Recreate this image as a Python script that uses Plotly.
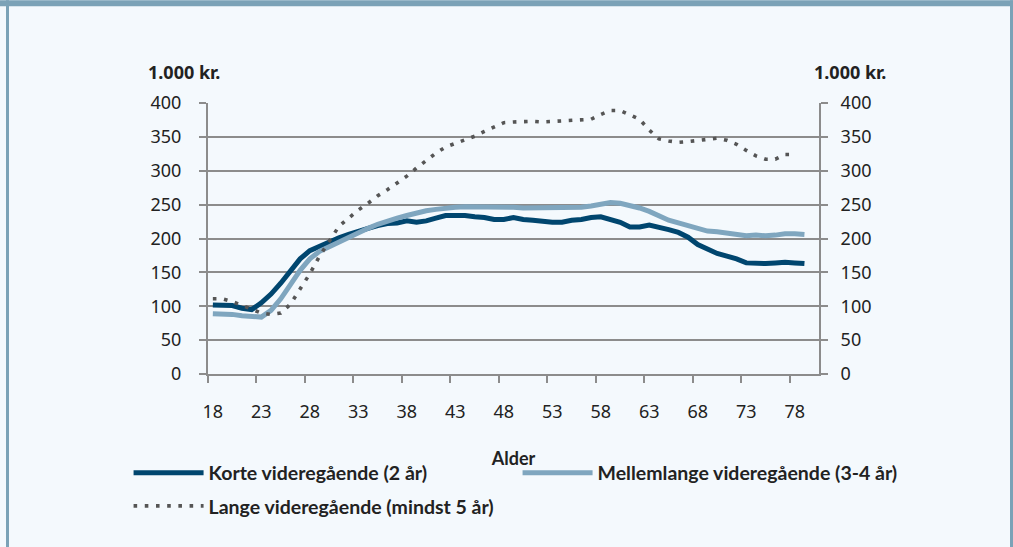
import plotly.graph_objects as go

ages = list(range(18, 81))

korte = [102, 102, 101, 97, 95, 105, 118, 134, 153, 170, 182, 189, 195, 201, 206,
         211, 215, 219, 222, 223, 226, 224, 226, 230, 234, 234, 234, 232,
         231, 228, 228, 231, 228, 227, 225, 224, 224, 227, 228, 231, 232, 228,
         224, 217, 217, 220, 217, 213, 209, 202, 191, 184, 178, 174, 170, 164,
         163, 163, 164, 165, 164, 163, None]

mellem = [89, 89, 88, 86, 85, 84, 94, 111, 132, 153, 170, 181, 188, 195, 203,
          209, 215, 221, 226, 230, 234, 238, 241, 243, 245, 246, 247, 247,
          247, 247, 247, 246, 245, 245, 245, 245, 245, 245, 246, 248, 251, 253,
          252, 249, 245, 240, 234, 227, 223, 219, 215, 211, 210, 208, 206, 204,
          205, 204, 205, 207, 207, 206, None]

lange = [111, 111, 107, 101, 95, 90, 88, 90, 103, 125, 148, 174, 197, 218, 230,
         242, 252, 263, 272, 282, 292, 304, 315, 326, 335, 340, 346, 351,
         358, 365, 371, 372, 373, 373, 372, 373, 374, 375, 375, 376, 383, 389,
         389, 383, 376, 360, 347, 344, 342, 343, 345, 346, 348, 345, 339, 330,
         322, 317, 317, 324, 324, None, None]

names = ["Korte videregående (2 år)", "Mellemlange videregående (3-4 år)",
         "Lange videregående (mindst 5 år)"]
xticks = list(range(18, 79, 5))
yticks = list(range(0, 401, 50))

DARK = "#00466f"
LIGHT = "#7fa6bf"
DOT = "#555555"
GRID = "#8c8c8c"
BG = "#f4f9fd"
BORDER = "#7ba2b7"
TXT = "#222222"

fig = go.Figure()
fig.add_trace(go.Scatter(x=ages, y=korte, name=names[0], mode="lines",
                         line=dict(color=DARK, width=5), legend="legend"))
fig.add_trace(go.Scatter(x=ages, y=mellem, name=names[1], mode="lines",
                         line=dict(color=LIGHT, width=5), legend="legend"))
fig.add_trace(go.Scatter(x=ages, y=lange, name=names[2], mode="lines",
                         line=dict(color=DOT, width=3.6, dash="3.6px,7.6px"),
                         legend="legend2"))
# invisible trace so the right-hand axis is drawn
fig.add_trace(go.Scatter(x=ages, y=korte, yaxis="y2", mode="lines",
                         line=dict(width=0), opacity=0, showlegend=False,
                         hoverinfo="skip"))

tickfont = dict(family="Noto Sans", size=18, color=TXT)
legfont = dict(family="Lato", size=19.5, color=TXT, weight="bold")
fig.update_layout(
    width=1013, height=547,
    margin=dict(l=208, r=194, t=103, b=173),
    paper_bgcolor=BG, plot_bgcolor=BG,
    showlegend=True,
    xaxis=dict(range=[17.5, 80.5], tickvals=xticks, ticktext=[str(v) for v in xticks],
               ticks="", showgrid=False, zeroline=False,
               showline=True, linecolor=GRID, linewidth=2,
               tickfont=tickfont, ticklabelstandoff=20,
               minor=dict(tickvals=[v - 0.5 for v in xticks], ticks="outside",
                          ticklen=7, tickwidth=2, tickcolor=GRID, showgrid=False),
               title=dict(text="Alder", standoff=31,
                          font=dict(family="Lato", size=18, color=TXT, weight="bold"))),
    yaxis=dict(range=[0, 400], tickvals=yticks, ticks="outside", ticklen=7,
               tickwidth=2, tickcolor=GRID, showgrid=True, gridcolor=GRID,
               gridwidth=1.5, zeroline=False, showline=True, linecolor=GRID,
               linewidth=2, tickfont=tickfont, ticklabelstandoff=14),
    yaxis2=dict(range=[0, 400], tickvals=yticks, overlaying="y", side="right",
                ticks="outside", ticklen=7, tickwidth=2, tickcolor=GRID,
                showgrid=False, zeroline=False, showline=True, linecolor=GRID,
                linewidth=2, tickfont=tickfont, ticklabelstandoff=9),
    legend=dict(orientation="h", x=-0.130, xanchor="left", y=-0.366, yanchor="middle",
                itemwidth=70, entrywidth=304, bgcolor="rgba(0,0,0,0)",
                font=legfont, traceorder="normal"),
    legend2=dict(orientation="h", x=-0.130, xanchor="left", y=-0.488, yanchor="middle",
                 itemwidth=70, bgcolor="rgba(0,0,0,0)", font=legfont),
    annotations=[
        dict(text="1.000 kr.", xref="paper", yref="paper", x=-0.040, y=1.115,
             xanchor="center", yanchor="middle", showarrow=False,
             font=dict(family="Noto Sans", size=18, color=TXT, weight="bold")),
        dict(text="1.000 kr.", xref="paper", yref="paper", x=1.051, y=1.115,
             xanchor="center", yanchor="middle", showarrow=False,
             font=dict(family="Noto Sans", size=18, color=TXT, weight="bold")),
    ],
    shapes=[
        dict(type="rect", xref="paper", yref="paper", x0=-208/611, x1=(1013-208)/611,
             y0=(373.7-6)/271, y1=373.7/271, fillcolor=BORDER, line_width=0, layer="below"),
        dict(type="rect", xref="paper", yref="paper", x0=(6-208)/611, x1=(9-208)/611,
             y0=(373.7-547)/271, y1=373.7/271, fillcolor=BORDER, line_width=0, layer="below"),
        dict(type="rect", xref="paper", yref="paper", x0=(1010-208)/611, x1=(1013-208)/611,
             y0=(373.7-547)/271, y1=373.7/271, fillcolor=BORDER, line_width=0, layer="below"),
    ],
)

fig.write_html("out.html", config={"displayModeBar": False},
               post_script="document.body.style.margin='0';document.body.style.overflow='hidden';")
